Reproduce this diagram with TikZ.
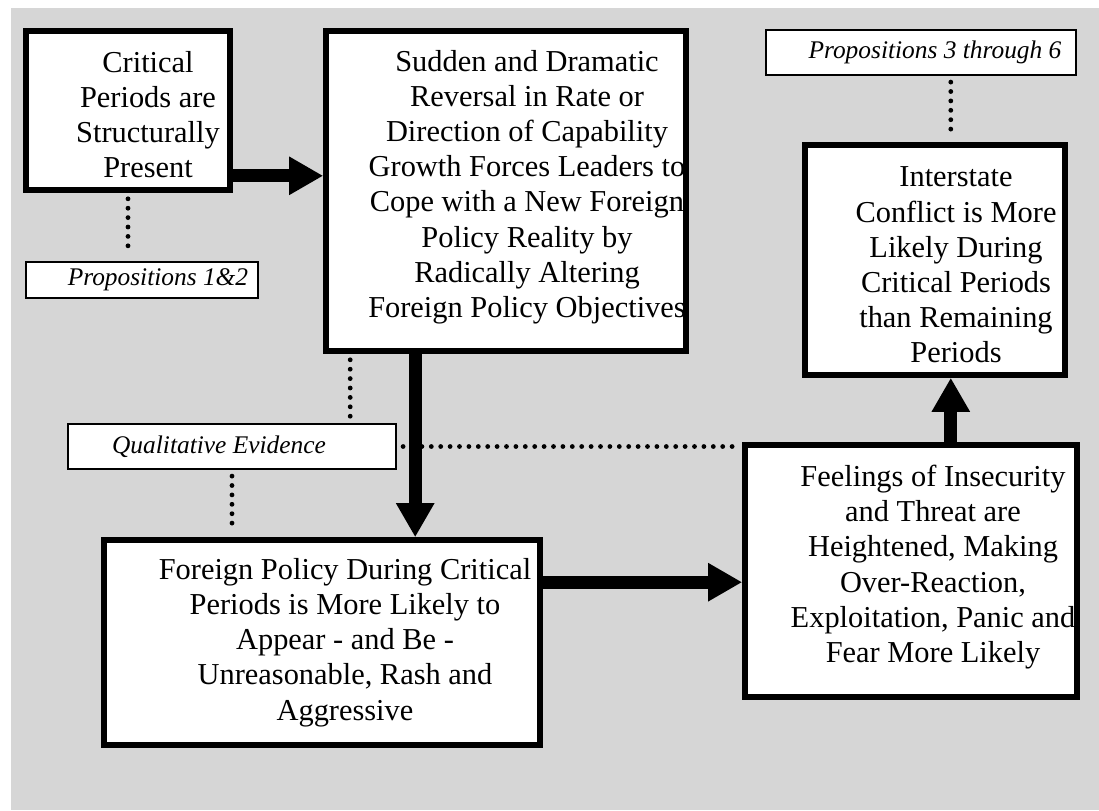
\documentclass[tikz,border=0pt]{standalone}
\usepackage{fontspec}
\setmainfont{Liberation Serif}
\usetikzlibrary{arrows.meta}

\definecolor{paper}{gray}{0.84}
\newcommand{\boxfont}{\fontsize{15.2}{17.6}\selectfont}
\newcommand{\notefont}{\fontsize{12.7}{15}\selectfont\itshape}

\begin{document}
\begin{tikzpicture}[x=0.5pt, y=-0.5pt,
    box/.style={draw, line width=2.8pt, fill=white, inner sep=0pt},
    txt/.style={align=center, font=\boxfont, inner sep=0pt},
    note/.style={draw, line width=1.1pt, fill=white, inner sep=0pt, font=\notefont},
    flow/.style={line width=6.5pt, -{Triangle[length=17pt, width=18pt]}},
    link/.style={line width=2.4pt, line cap=round, dash pattern=on 0pt off 4.7pt,
      shorten <=3pt, shorten >=3pt}
  ]
  \useasboundingbox (0,0) rectangle (1099,810);
  \fill[paper] (11,8) rectangle (1099,810);

  % main boxes, the text is clipped by the frame
  \node[box, minimum width=102pt, minimum height=79.5pt,
    path picture={\node[txt] (crit-t) at ([xshift=10pt, yshift=-2pt]path picture bounding box.center)
      {Critical\\Periods are\\Structurally\\Present};}] (crit) at (128,110.5) {};
  \node[box, minimum width=180pt, minimum height=160pt,
    path picture={\node[txt] (sudden-t) at ([xshift=10.5pt, yshift=2pt]path picture bounding box.center)
      {Sudden and Dramatic\\Reversal in Rate or\\Direction of Capability\\Growth Forces Leaders to\\
       Cope with a New Foreign\\Policy Reality by\\Radically Altering\\Foreign Policy Objectives};}] (sudden) at (506,191) {};
  \node[box, minimum width=130pt, minimum height=115pt,
    path picture={\node[txt] (inter-t) at ([xshift=10.5pt, yshift=-2.5pt]path picture bounding box.center)
      {Interstate\\Conflict is More\\Likely During\\Critical Periods\\than Remaining\\Periods};}] (inter) at (935,260) {};
  \node[box, minimum width=166pt, minimum height=126pt,
    path picture={\node[txt] (feel-t) at ([xshift=11pt, yshift=2pt]path picture bounding box.center)
      {Feelings of Insecurity\\and Threat are\\Heightened, Making\\Over-Reaction,\\
       Exploitation, Panic and\\Fear More Likely};}] (feel) at (911,571) {};
  \node[box, minimum width=218pt, minimum height=102.5pt,
    path picture={\node[txt] (fp-t) at ([xshift=11.5pt]path picture bounding box.center)
      {Foreign Policy During Critical\\Periods is More Likely to\\Appear - and Be -\\
       Unreasonable, Rash and\\Aggressive};}] (fp) at (322,642.5) {};

  % evidence labels
  \node[note, minimum width=116pt, minimum height=18pt] (prop12) at (142,280) {\hspace*{16pt}Propositions 1\&2};
  \node[note, minimum width=155pt, minimum height=22.5pt] (prop36) at (921,52.5) {\hspace*{14pt}Propositions 3 through 6};
  \node[note, minimum width=164pt, minimum height=22.5pt] (qual) at (232,446.5) {Qualitative Evidence\hspace*{13pt}};

  \coordinate (c-out) at ([yshift=8.5pt]crit.south east);
  \coordinate (s-out) at ([xshift=46pt]sudden.south west);
  \coordinate (s-dot) at ([xshift=13.5pt]sudden.south west);
  \coordinate (f-out) at ([yshift=-22.5pt]fp.north east);
  \coordinate (e-out) at ([xshift=-64.5pt]feel.north east);

  % dotted links to the evidence
  \draw[link] (crit.south) -- (crit.south |- prop12.north);
  \draw[link] (e-out |- prop36.south) -- (e-out |- inter.north);
  \draw[link] (s-dot) -- (s-dot |- qual.north);
  \draw[link] (qual.south) -- (qual.south |- fp.north);
  \draw[link] (qual.east) -- (qual.east -| feel.west);

  % causal chain
  \draw[flow] (c-out) -- (c-out -| sudden.west);
  \draw[flow] (s-out) -- (s-out |- fp.north);
  \draw[flow] (f-out) -- (f-out -| feel.west);
  \draw[flow] (e-out) -- (e-out |- inter.south);
\end{tikzpicture}
\end{document}
